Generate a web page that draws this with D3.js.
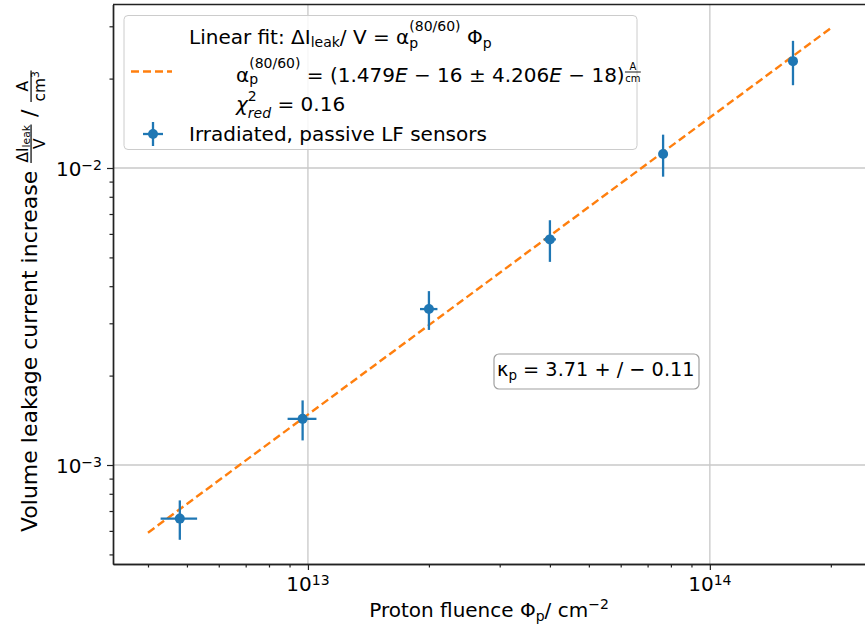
<!DOCTYPE html>
<html><head><meta charset="utf-8">
<script src="https://cdn.jsdelivr.net/npm/d3@7"></script>
<style>
body{margin:0;background:#fff}
svg text{font-family:"DejaVu Sans";white-space:pre;fill:#000}
</style>
</head><body>
<svg id="c" width="865" height="626"></svg>
<script>
// ---- data ----
const fluence      = [4.8e12, 9.7e12, 2.0e13, 4.0e13, 7.65e13, 1.61e14];
const fluenceErr   = [0.5e12, 0.8e12, 1.0e12, 1.4e12, 1.5e12, 2.0e12];
const currentInc   = [6.6e-4, 1.43e-3, 3.35e-3, 5.75e-3, 1.115e-2, 2.29e-2];
const currentErr   = [1.0e-4, 2.2e-4, 5.0e-4, 9.2e-4, 1.8e-3, 3.9e-3];
const fitRange     = [4e12, 2e14];
const alphaFit     = 1.479e-16;
const xMajor = [1e13, 1e14];
const xMinor = [4e12,5e12,6e12,7e12,8e12,9e12,2e13,3e13,4e13,5e13,6e13,7e13,8e13,9e13,2e14];
const xMajorLabels = ["13","14"];
const yMajor = [1e-3, 1e-2];
const yMinor = [5e-4,6e-4,7e-4,8e-4,9e-4,2e-3,3e-3,4e-3,5e-3,6e-3,7e-3,8e-3,9e-3,2e-2,3e-2];
const yMajorLabels = ["\u22123","\u22122"];

const blue = "#1f77b4", orange = "#ff7f0e";
const svg = d3.select("#c");
const L = 113, R = 865, T = 4.5, B = 564;
const x = d3.scaleLog().domain([10**12.515, 10**14.386]).range([L, R]);
const y = d3.scaleLog().domain([10**-3.3333, 10**-1.4495]).range([B, T]);

// mini math-text layout
function run(g, x0, y0, items, fs){ let cx = x0; for(const it of items) cx += piece(g, cx, y0, it, fs); return cx - x0; }
function piece(g, px, py, it, fs){
  if(it.stack){ const a = run(g, px, py, it.stack[0], fs), b = run(g, px, py, it.stack[1], fs); return Math.max(a,b); }
  if(it.frac){
    const f = it.frac;
    const gn = g.append("g"), gd = g.append("g");
    const wn = run(gn,0,0,f.num,fs), wd = run(gd,0,0,f.den,fs);
    const pad = (f.pad||0.06)*fs, w = Math.max(wn,wd) + 2*pad;
    const ax = py - f.axis*fs;
    gn.attr("transform",`translate(${px+(w-wn)/2},${ax - f.nGap*fs})`);
    gd.attr("transform",`translate(${px+(w-wd)/2},${ax + f.dGap*fs})`);
    g.append("line").attr("x1",px+pad*0.5).attr("x2",px+w-pad*0.5).attr("y1",ax).attr("y2",ax)
      .attr("stroke","#000").attr("stroke-width",f.lw||1);
    return w;
  }
  const s = (it.s||1)*fs;
  const t = g.append("text").attr("x",px).attr("y",py-(it.up||0)*fs).attr("font-size",s)
    .attr("font-style",it.it?"italic":null).text(it.t);
  return t.node().getComputedTextLength();
}

// grid
const grid = svg.append("g").attr("stroke","#c8c8c8").attr("stroke-width",1.3);
grid.selectAll("line.gx").data(xMajor).join("line").attr("x1",d=>x(d)).attr("x2",d=>x(d)).attr("y1",T).attr("y2",B);
grid.selectAll("line.gy").data(yMajor).join("line").attr("y1",d=>y(d)).attr("y2",d=>y(d)).attr("x1",L).attr("x2",R);

// axes
function styleAxis(g){ g.selectAll("path.domain").attr("stroke","#222").attr("stroke-width",1.4); g.selectAll(".tick line").attr("stroke","#222").attr("stroke-width",1.2); g.selectAll(".tick text").remove(); }
svg.append("g").attr("transform",`translate(0,${B})`).call(d3.axisBottom(x).tickValues(xMinor).tickSize(3.5).tickSizeOuter(0).tickFormat(()=>"")).call(styleAxis);
svg.append("g").attr("transform",`translate(0,${B})`).call(d3.axisBottom(x).tickValues(xMajor).tickSize(6).tickSizeOuter(0).tickFormat(()=>"")).call(styleAxis);
svg.append("g").attr("transform",`translate(${L},0)`).call(d3.axisLeft(y).tickValues(yMinor).tickSize(3.5).tickSizeOuter(0).tickFormat(()=>"")).call(styleAxis);
svg.append("g").attr("transform",`translate(${L},0)`).call(d3.axisLeft(y).tickValues(yMajor).tickSize(6).tickSizeOuter(0).tickFormat(()=>"")).call(styleAxis);
svg.append("line").attr("x1",L).attr("x2",R).attr("y1",T).attr("y2",T).attr("stroke","#222").attr("stroke-width",1.4);

// tick labels
xMajor.forEach((v,i)=>{
  const t = svg.append("text").attr("x",x(v)).attr("y",591).attr("text-anchor","middle").attr("font-size",20);
  t.append("tspan").text("10");
  t.append("tspan").attr("font-size",14).attr("dy",-6).text(xMajorLabels[i]);
});
yMajor.forEach((v,i)=>{
  const t = svg.append("text").attr("x",102).attr("y",y(v)+8).attr("text-anchor","end").attr("font-size",20);
  t.append("tspan").text("10");
  t.append("tspan").attr("font-size",14).attr("dy",-6).text(yMajorLabels[i]);
});

// fit line
svg.append("path").datum(fitRange).attr("fill","none").attr("stroke",orange).attr("stroke-width",2.4)
  .attr("stroke-dasharray","8,4").attr("d",d3.line().x(d=>x(d)).y(d=>y(alphaFit*d)));

// data points with error bars
const pts = svg.append("g");
fluence.forEach((f,i)=>{
  const c = currentInc[i];
  pts.append("line").attr("x1",x(f-fluenceErr[i])).attr("x2",x(f+fluenceErr[i])).attr("y1",y(c)).attr("y2",y(c)).attr("stroke",blue).attr("stroke-width",2.3);
  pts.append("line").attr("x1",x(f)).attr("x2",x(f)).attr("y1",y(c-currentErr[i])).attr("y2",y(c+currentErr[i])).attr("stroke",blue).attr("stroke-width",2.3);
  pts.append("circle").attr("cx",x(f)).attr("cy",y(c)).attr("r",5).attr("fill",blue);
});

// legend
const lg = svg.append("g");
lg.append("rect").attr("x",124).attr("y",15.5).attr("width",513).attr("height",134).attr("rx",4)
  .attr("fill","#fff").attr("fill-opacity",0.85).attr("stroke","#cccccc").attr("stroke-width",1);
lg.append("line").attr("x1",131).attr("x2",172).attr("y1",71.5).attr("y2",71.5).attr("stroke",orange).attr("stroke-width",2.4).attr("stroke-dasharray","8,4");
lg.append("line").attr("x1",143).attr("x2",163).attr("y1",134).attr("y2",134).attr("stroke",blue).attr("stroke-width",2.3);
lg.append("line").attr("x1",153).attr("x2",153).attr("y1",122).attr("y2",146).attr("stroke",blue).attr("stroke-width",2.3);
lg.append("circle").attr("cx",153).attr("cy",134).attr("r",5).attr("fill",blue);
const FS = 20;
const alpha1 = [{t:"\u03b1"},{stack:[[{t:"p",s:0.7,up:-0.22}],[{t:"(80/60)",s:0.7,up:0.65}]]}];
const alpha2 = [{t:"\u03b1"},{stack:[[{t:"p",s:0.7,up:-0.08}],[{t:"(80/60)",s:0.7,up:0.68}]]}];
run(lg,189,44,[{t:"Linear fit: \u0394I"},{t:"leak",s:0.7,up:-0.13},{t:"/ V = "},...alpha1,{t:" \u03a6"},{t:"p",s:0.7,up:-0.2}],FS);
run(lg,236,82,[...alpha2,{t:" = (1.479"},{t:"E",it:true},{t:" \u2212 16 \u00b1 4.206"},{t:"E",it:true},{t:" \u2212 18)"},
  {frac:{num:[{t:"A",s:0.5}],den:[{t:"cm",s:0.5}],axis:0.5,nGap:0.1,dGap:0.5,pad:0.03,lw:0.9}}],FS);
run(lg,236,111,[{t:"\u03c7",it:true},{stack:[[{t:"red",s:0.7,up:-0.33,it:true}],[{t:"2",s:0.7,up:0.5}]]},{t:" = 0.16"}],FS);
run(lg,189,141,[{t:"Irradiated, passive LF sensors"}],FS);

// kappa box
svg.append("rect").attr("x",494).attr("y",354).attr("width",205).attr("height",35).attr("rx",5)
  .attr("fill","#fff").attr("stroke","#a0a0a0").attr("stroke-width",1.2);
run(svg,497,376,[{t:"\u03ba"},{t:"p",s:0.7,up:-0.2},{t:" = 3.71 + / \u2212 0.11"}],19.3);

// x label
const xl = svg.append("g");
const xw = run(xl,0,0,[{t:"Proton fluence \u03a6"},{t:"p",s:0.7,up:-0.2},{t:"/ cm"},{t:"\u22122",s:0.7,up:0.38}],20);
xl.attr("transform",`translate(${(L+R)/2 - xw/2},617)`);

// y label
const yl = svg.append("g");
const FY = 22;
const yw = run(yl,0,0,[{t:"Volume leakage current increase "},
  {frac:{num:[{t:"\u0394I",s:0.7},{t:"leak",s:0.49,up:-0.08}],den:[{t:"V",s:0.7}],axis:0.27,nGap:0.12,dGap:0.64,pad:0.05,lw:1.2}},
  {t:" / "},
  {frac:{num:[{t:"A",s:0.7}],den:[{t:"cm",s:0.7},{t:"3",s:0.49,up:0.3}],axis:0.27,nGap:0.12,dGap:0.64,pad:0.05,lw:1.2}}],FY);
yl.attr("transform",`translate(37,${70+yw}) rotate(-90)`);
</script>
</body></html>
